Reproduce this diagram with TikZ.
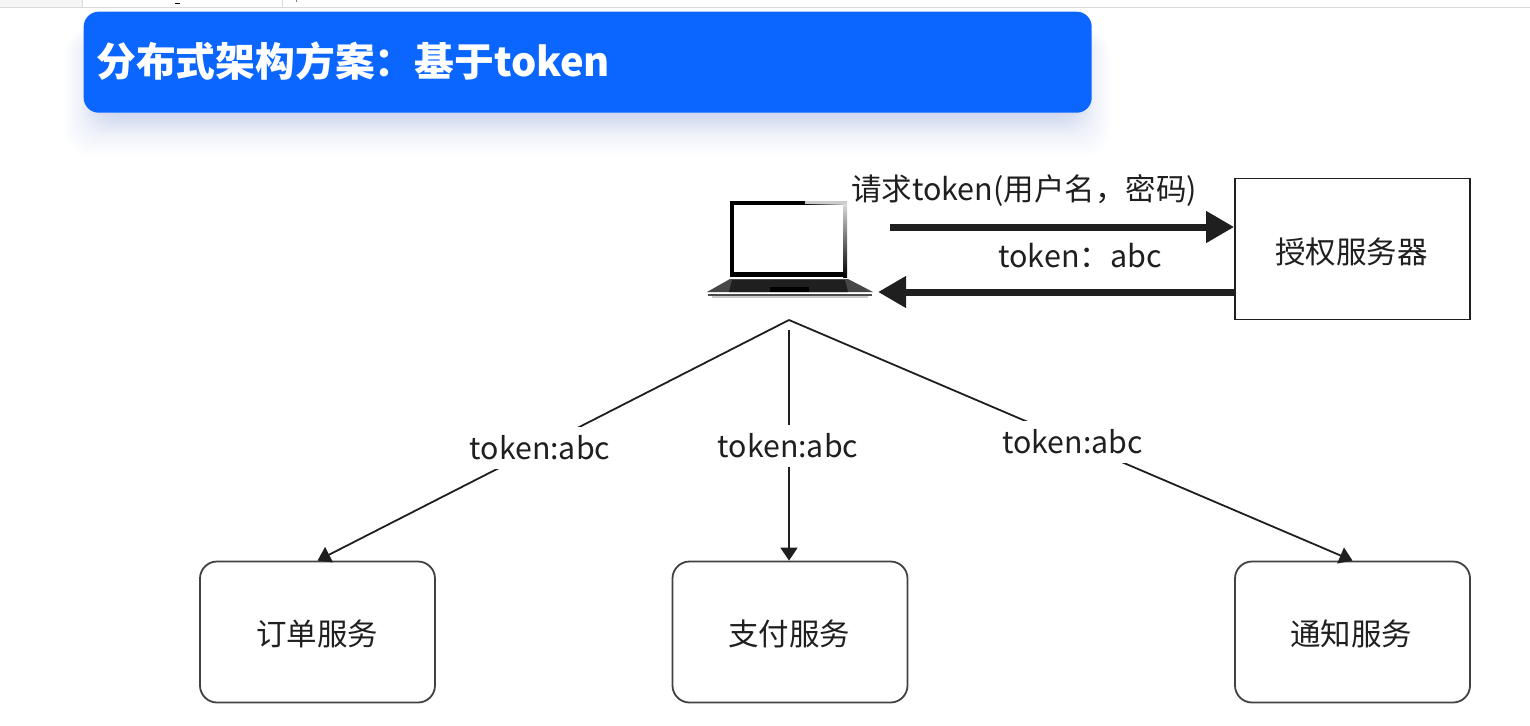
\documentclass[tikz,border=0pt]{standalone}
\usepackage{fontspec}
\setmainfont{Noto Sans CJK SC}
\usetikzlibrary{arrows.meta,calc}
\definecolor{ink}{HTML}{1F1F1F}
\definecolor{bluebar}{HTML}{0A66FF}
\definecolor{shadowblue}{HTML}{3A5FC0}
\tikzset{
  svcbox/.style={draw=ink!85,line width=1.8pt,rounded corners=17pt,minimum width=235pt,minimum height=141pt,inner sep=0pt,font=\fontsize{30.5}{31}\selectfont,text=ink},
  authbox/.style={draw=ink,line width=1.6pt,minimum width=235pt,minimum height=141pt,inner sep=0pt,font=\fontsize{30.5}{31}\selectfont,text=ink},
  tokenlabel/.style={fill=white,inner xsep=4pt,inner ysep=9pt,font=\fontsize{30.3}{31}\selectfont,text=ink},
  plainlabel/.style={inner sep=0pt,font=\fontsize{30.5}{31}\selectfont,text=ink},
  thin link/.style={draw=ink,line width=1.8pt,-{Triangle[length=13pt,width=17pt]}},
  thick link/.style={draw=ink,line width=7pt,-{Triangle[length=28pt,width=30pt]}},
}
\begin{document}
\begin{tikzpicture}[x=1pt,y=-1pt]
\useasboundingbox (0,0) rectangle (1530,725);
% window strip
\fill[black!4] (0,0) rectangle (82,7);
\draw[black!15,line width=1.2pt] (0,7.5) -- (1530,7.5);
\draw[black!15,line width=1.2pt] (82.5,0) -- (82.5,7);
\draw[black!15,line width=1.2pt] (282.5,0) -- (282.5,7);
\fill[black] (175,3) rectangle (180,4.5);
\fill[black!50] (296,0) rectangle (297,2.5);
% banner shadow
\foreach \g in {60,59,...,1}{
  \pgfmathsetmacro{\op}{0.011*(1-\g/62)}
  \fill[shadowblue,opacity=\op,rounded corners=25pt] (84+20-\g*0.8,30) rectangle (1091-20+\g*0.8,106+\g);
}
% banner
\node[fill=bluebar,rounded corners=15pt,minimum width=1008pt,minimum height=101pt,inner sep=0pt,anchor=north west] (banner) at (83.5,11.5) {};
\node[anchor=west,inner sep=0pt,text=white,font=\fontsize{39.8}{40}\selectfont\bfseries] (title) at (96,61) {分布式架构方案：基于token};
% laptop
\begin{scope}
  \fill[black] (730,201) rectangle (847,277);
  \shade[left color=black,right color=black!15] (805,201) rectangle (847,205);
  \fill[black!20] (805,201) rectangle (847,204);
  \shade[top color=black!15,bottom color=black] (843,204) rectangle (847,277);
  \fill[white] (734,205) rectangle (843,272);
  \fill[black!72] (730,279) -- (848,279) -- (873,292) -- (707,292) -- cycle;
  \fill[black!88] (732,280) -- (845,280) -- (848,292) -- (729,292) -- cycle;
  \fill[black] (770,287) rectangle (809,292);
  \fill[black!70] (708,294) rectangle (872,296);
  \fill[black!20] (712,296) rectangle (868,298);
\end{scope}
\coordinate (apex) at (789,320);
\coordinate (paytop) at (789,330);
\coordinate (laptopout) at (890,227);
\coordinate (laptopin) at (878,292);
% auth
\node[authbox] (auth) at (1352.5,249) {};
\node[plainlabel] (authtext) at (1351.5,252) {授权服务器};
\coordinate (authin) at (auth.west|-laptopout);
\coordinate (authout) at (auth.west|-laptopin);
\draw[thick link] (laptopout) -- (authin);
\draw[thick link] (authout) -- (laptopin);
\node[plainlabel] (reqlabel) at (1024,190.5) {请求token(用户名，密码)};
\node[plainlabel] (resplabel) at (1080,256) {token：abc};
% services
\node[svcbox] (order) at (317.5,632) {};
\node[svcbox] (pay) at (790,632) {};
\node[svcbox] (notify) at (1352.5,632) {};
\node[plainlabel] (ordertext) at (317,633.5) {订单服务};
\node[plainlabel] (paytext) at (789,633.5) {支付服务};
\node[plainlabel] (notifytext) at (1351,633.5) {通知服务};
\draw[thin link] (apex) -- (order.north);
\draw[thin link] (paytop) -- (paytop|-pay.north);
\draw[thin link] (apex) -- (notify.north);
\node[tokenlabel] (l1) at (540,448) {token:abc};
\node[tokenlabel] (l2) at (788,446) {token:abc};
\node[tokenlabel] (l3) at (1072.5,442) {token:abc};
\end{tikzpicture}
\end{document}
